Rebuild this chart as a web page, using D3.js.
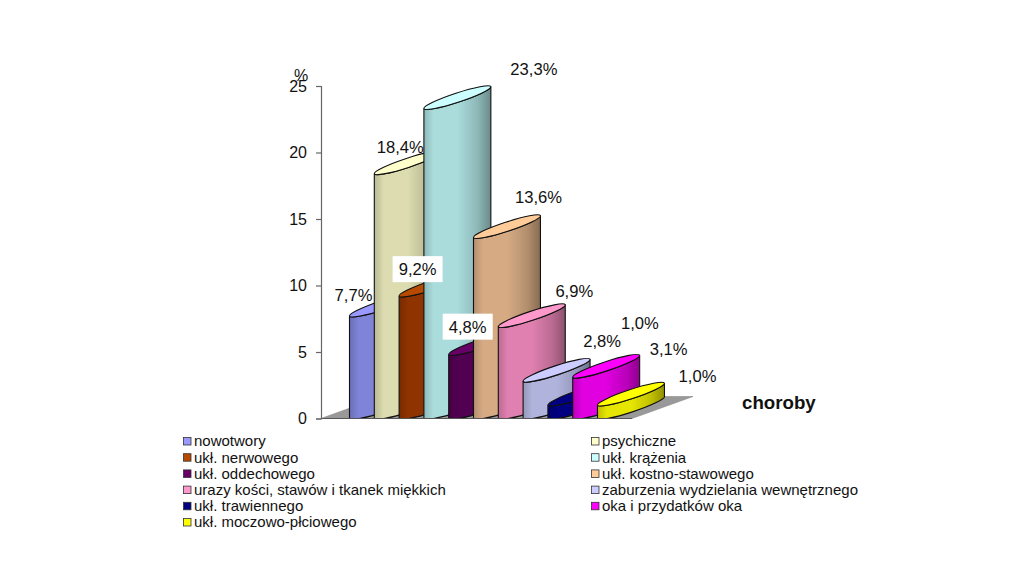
<!DOCTYPE html>
<html><head><meta charset="utf-8">
<script src="https://cdn.jsdelivr.net/npm/d3@7"></script>
<style>html,body{margin:0;padding:0;background:#fff}svg{display:block;font-family:"Liberation Sans",Arial,sans-serif}</style>
</head><body><svg id="c" width="1024" height="572"></svg>
<script>
const categories = ["nowotwory","psychiczne","ukł. nerwowego","ukł. krążenia","ukł. oddechowego","ukł. kostno-stawowego","urazy kości, stawów i tkanek miękkich","zaburzenia wydzielania wewnętrznego","ukł. trawiennego","oka i przydatków oka","ukł. moczowo-płciowego"];
const values = [7.7,18.4,9.2,23.3,4.8,13.6,6.9,2.8,1.0,3.1,1.0];
const valueLabels = ["7,7%","18,4%","9,2%","23,3%","4,8%","13,6%","6,9%","2,8%","1,0%","3,1%","1,0%"];
const yTicks = [0,5,10,15,20,25];
const topColors = ["#9999ff","#ffffcc","#b84a00","#ccffff","#660066","#ffcc99","#ff99cc","#ccccff","#000080","#ff00ff","#ffff00"];
const bodyColors = ["#8084d8","#dcdcb0","#8f3300","#aadcdc","#520052","#d6ab84","#e080b0","#b0b4dc","#000080","#e000e0","#e6e600"];
const labelDx = [4,26,18.5,110,19,65,76,79,92,96,100];
const labelDy = [-21,-27,-27,-40,-28,-41,-36,-40,-82,-28,-29];
const boxedLabels = [2,4];

const svg = d3.select("#c");
const y = d3.scaleLinear().domain([0,25]).range([418.5,86]);
const x = d3.scaleBand().domain(categories).range([349.5,622.3]);
const depth = 22, colW = 2.7*x.bandwidth();
const rot = Math.atan2(depth,colW)*180/Math.PI;
const rx = Math.hypot(colW,depth)/2, ry = 4.6;

const defs = svg.append("defs");
defs.append("clipPath").attr("id","floorClip").append("rect").attr("x",0).attr("y",0).attr("width",1024).attr("height",y(0)+0.5);
bodyColors.forEach((c,i)=>{
  const g = defs.append("linearGradient").attr("id","g"+i);
  const stops = [[0,d3.color(c).darker(0.5)],[0.14,c],[0.5,c],[0.8,d3.color(c).darker(0.5)],[1,d3.color(c).darker(1.3)]];
  stops.forEach(s=>g.append("stop").attr("offset",s[0]).attr("stop-color",s[1]));
});

// floor
const x0 = y.range()[0];
const floorX = d3.scaleLinear().domain([0,1]).range([321,632]);
svg.append("path")
  .attr("d",d3.line()([[floorX(0),x0],[floorX(0)+61,x0-depth],[floorX(1)+61,x0-depth],[floorX(1),x0]])+"Z")
  .attr("fill","#999999").attr("stroke","#8a8a8a").attr("stroke-width",0.6);

// columns
const colLayer = svg.append("g").attr("clip-path","url(#floorClip)");
categories.forEach((c,i)=>{
  const L = x(c), T = y(values[i]), B = y(0), R = L+colW;
  const g = colLayer.append("g");
  g.append("path")
    .attr("d",`M${L},${T}L${L},${B}A${rx},${ry} ${-rot} 0 0 ${R},${B-depth}L${R},${T-depth}A${rx},${ry} ${-rot} 0 1 ${L},${T}Z`)
    .attr("fill",`url(#g${i})`).attr("stroke","#111").attr("stroke-width",1.1);
  g.append("ellipse")
    .attr("cx",0).attr("cy",0).attr("rx",rx).attr("ry",ry)
    .attr("transform",`translate(${L+colW/2},${T-depth/2}) rotate(${-rot})`)
    .attr("fill",topColors[i]).attr("stroke","#111").attr("stroke-width",1.1);
});
svg.append("line").attr("x1",floorX(0)).attr("x2",floorX(1)).attr("y1",x0).attr("y2",x0).attr("stroke","#555").attr("stroke-width",1);

// axis
const axis = d3.axisLeft(y).tickValues(yTicks).tickSize(5).tickPadding(9);
const ag = svg.append("g").attr("transform","translate(321,0)").call(axis);
ag.selectAll("path,line").attr("stroke","#666").attr("stroke-width",1.2);
ag.selectAll("text").attr("font-size",16).attr("font-family","inherit").attr("fill","#111");

svg.append("text").attr("x",301).attr("y",81).attr("text-anchor","middle").attr("font-size",16).attr("fill","#111").text("%");
svg.append("text").attr("x",742).attr("y",409).attr("font-size",18.7).attr("font-weight","bold").attr("fill","#111").text("choroby");

// data labels
categories.forEach((c,i)=>{
  const cx = x(c)+labelDx[i], cy = y(values[i])+labelDy[i];
  if (boxedLabels.includes(i))
    svg.append("rect").attr("x",cx-25).attr("y",cy-13).attr("width",50).attr("height",26).attr("fill","#fff");
  svg.append("text").attr("x",cx).attr("y",cy).attr("dy","0.36em").attr("text-anchor","middle").attr("font-size",16.6).attr("fill","#111").text(valueLabels[i]);
});

// legend
const legendY = d3.scaleLinear().domain([0,5]).range([441,522]);
const legendX = [183,591];
categories.forEach((c,i)=>{
  const col = i%2, row = Math.floor(i/2);
  const g = svg.append("g").attr("transform",`translate(${legendX[col]},${legendY(row)})`);
  g.append("rect").attr("x",0.5).attr("y",-3.5).attr("width",7.5).attr("height",7.5).attr("fill",topColors[i]).attr("stroke","#333").attr("stroke-width",0.8);
  g.append("text").attr("x",11).attr("y",0).attr("dy","0.36em").attr("font-size",15).attr("fill","#111").text(c);
});
</script></body></html>
